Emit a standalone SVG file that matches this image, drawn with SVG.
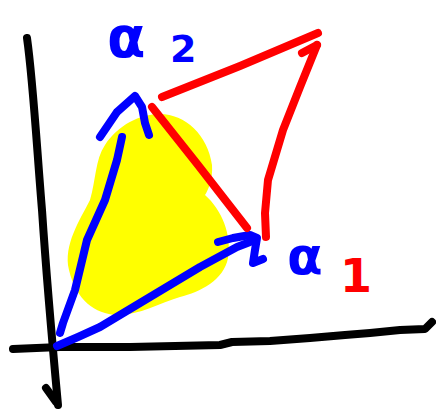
<svg xmlns="http://www.w3.org/2000/svg" width="436" height="413" viewBox="0 0 436 413">
<style>
.s{fill:none;stroke-width:8;stroke-linecap:round;stroke-linejoin:round}
.k{stroke:#000}
.b{stroke:#0000ff}
.r{stroke:#ff0000}
.t{font-family:"DejaVu Sans",sans-serif;font-weight:bold}
</style>
<rect width="436" height="413" fill="#fff"/>
<g id="blob">
<path d="M160,114 C185,114 208,135 212,165 C213,180 208,190 205,195 C222,210 232,235 228,258 C224,280 200,292 180,297 C160,303 140,315 117,315 C95,314 76,300 69,270 C63,245 80,220 90,200 C96,180 95,160 105,145 C118,125 140,114 160,114 Z" fill="#ffff00"/>
</g>
<g id="axes">
<path class="s k" d="M27,38 C33,80 37,150 42,210 C46,270 52,340 58,405"/>
<path class="s k" d="M46,388 L56,402"/>
<path class="s k" d="M13,349 L60,347 L130,347 L220,345 L232,342 L270,341 L310,338 L345,335 L370,333 L400,330 L425,329 L432,322"/>
</g>
<g id="connectors">
<path class="s b" d="M122,137 L117,160 L105,200 L87,240 L75,290 L63,323 L60,333"/>
<path class="s b" d="M100,137 L117,112 L135,96 L142,107 L145,123 L149,135"/>
<path class="s b" d="M57,346 L78,337 L100,327 L150,297 L200,267 L237,247 L250,242"/>
<path class="s b" d="M218,242 L233,238 L250,235 L257,238 L255,250 L253,263 L263,259"/>
<path class="s r" d="M152,107 L198,165 L247,228"/>
<path class="s r" d="M162,97 L240,66 L318,33"/>
<path class="s r" d="M266,237 L265,213 L268,180 L283,130 L300,87 L317,45"/>
<path class="s r" d="M302,53 L317,45"/>
</g>
<g id="label-a2">
<text class="t" x="107" y="57" font-size="56" fill="#0000ff">α</text>
<text class="t" x="170" y="62" font-size="38" fill="#0000ff">2</text>
</g>
<g id="label-a1">
<text class="t" x="287" y="274" font-size="52" fill="#0000ff">α</text>
<text class="t" x="340" y="292" font-size="46" fill="#ff0000">1</text>
</g>
</svg>
